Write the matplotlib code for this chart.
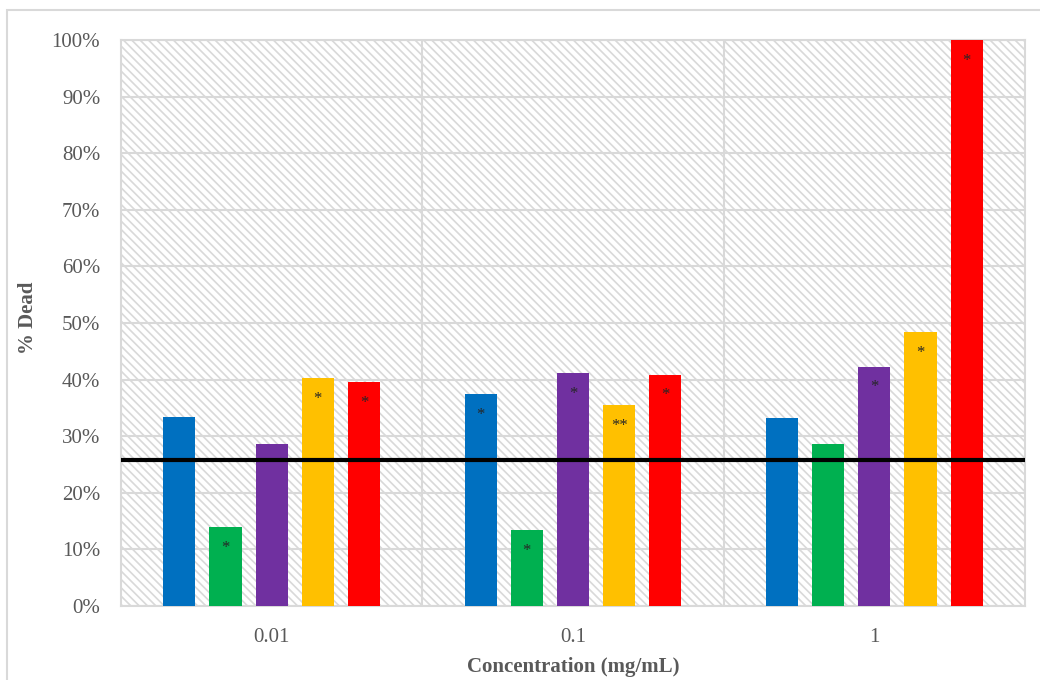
import matplotlib
matplotlib.use("Agg")
import matplotlib.pyplot as plt
import numpy as np
from matplotlib.patches import Rectangle
from matplotlib.ticker import PercentFormatter

# percent dead per treatment at each concentration
concentrations = ["0.01", "0.1", "1"]
blue = [0.334, 0.375, 0.332]
green = [0.140, 0.134, 0.287]
purple = [0.286, 0.411, 0.423]
yellow = [0.402, 0.355, 0.484]
red = [0.395, 0.409, 1.00]
# significance marks per bar (same order as the series)
blue_sig = ["", "*", ""]
green_sig = ["*", "*", ""]
purple_sig = ["", "*", "*"]
yellow_sig = ["*", "**", "*"]
red_sig = ["*", "*", "*"]
control = 0.258

series = [blue, green, purple, yellow, red]
marks = [blue_sig, green_sig, purple_sig, yellow_sig, red_sig]
colors = ["#0070C0", "#00B050", "#7030A0", "#FFC000", "#FF0000"]

plt.rcParams["font.family"] = ["Liberation Serif", "DejaVu Serif"]
plt.rcParams["hatch.color"] = "#e2e2e2"
plt.rcParams["hatch.linewidth"] = 1.2
text_grey = "#595959"
grid_grey = "#d9d9d9"

fig = plt.figure(figsize=(10.4, 6.8), dpi=100)
ax = fig.add_axes([121 / 1040, 1 - 606 / 680, 904 / 1040, 566 / 680])

# outer chart border
fig.patches.append(Rectangle((7 / 1040, -0.05), 1.2, 1 - 10 / 680 + 0.05,
                             transform=fig.transFigure, fill=False,
                             edgecolor=grid_grey, linewidth=1.5))

# hatched plot area background
ax.add_patch(Rectangle((0, 0), 1, 1, transform=ax.transAxes, facecolor="white",
                       edgecolor=grid_grey, hatch="\\\\\\\\", linewidth=0, zorder=0))

x = np.arange(len(concentrations))
step = 46 / 300
width = 32 / 300
for i, (vals, sig, c) in enumerate(zip(series, marks, colors)):
    xs = x + (i - 2) * step
    ax.bar(xs, vals, width=width, color=c, zorder=3)
    for xi, v, s in zip(xs, vals, sig):
        if s:
            ax.annotate(s, (xi, v), xytext=(0, -15), textcoords="offset points",
                        ha="center", va="center", fontsize=12, color="#262626",
                        zorder=5)

ax.axhline(control, color="black", linewidth=3, zorder=4)

ax.set_xlim(-0.5, 2.5)
ax.set_ylim(0, 1.0)
ax.set_yticks(np.arange(0, 1.01, 0.1))
ax.yaxis.set_major_formatter(PercentFormatter(1.0, decimals=0))
ax.set_xticks(x)
ax.set_xticklabels(concentrations)
ax.set_xticks([0.5, 1.5], minor=True)
ax.grid(axis="y", which="major", color=grid_grey, linewidth=1.5, zorder=1)
ax.grid(axis="x", which="minor", color=grid_grey, linewidth=1.5, zorder=1)
ax.tick_params(which="both", length=0, labelsize=15, labelcolor=text_grey)
ax.tick_params(axis="y", pad=15)
ax.tick_params(axis="x", pad=16)
for sp in ax.spines.values():
    sp.set_color(grid_grey)
    sp.set_linewidth(1.5)

ax.set_xlabel("Concentration (mg/mL)", fontsize=15, fontweight="bold",
              color=text_grey, va="center")
ax.xaxis.set_label_coords(0.5, -(667 - 606) / 566)
ax.set_ylabel("% Dead", fontsize=15, fontweight="bold", color=text_grey,
              va="center")
ax.yaxis.set_label_coords(-(121 - 28) / 904, 0.51)

fig.savefig("out.png", dpi=100)
